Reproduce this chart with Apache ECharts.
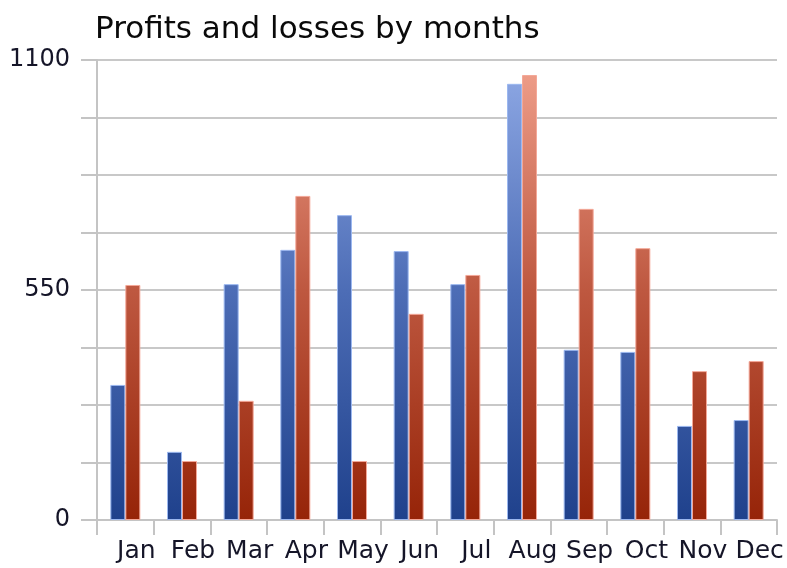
<!DOCTYPE html>
<html>
<head>
<meta charset="utf-8">
<script src="https://cdn.jsdelivr.net/npm/echarts@6/dist/echarts.min.js"></script>
<style>html,body{margin:0;padding:0;background:#fff;}#c{width:787px;height:568px;}</style>
</head>
<body>
<div id="c"></div>
<script>
var months = ['Jan','Feb','Mar','Apr','May','Jun','Jul','Aug','Sep','Oct','Nov','Dec'];
var profits = [323, 163, 564, 646, 729, 643, 564, 1043, 407, 402, 225, 239];
var losses = [562, 141, 285, 775, 141, 493, 586, 1064, 744, 650, 356, 380];
var yLabels = [0, 550, 1100];

var chart = echarts.init(document.getElementById('c'));
var blueGrad = new echarts.graphic.LinearGradient(0, 60, 0, 520, [
  {offset: 0, color: '#90aae6'},
  {offset: 0.5, color: '#4d6db6'},
  {offset: 1, color: '#1f418c'}
], true);
var redGrad = new echarts.graphic.LinearGradient(0, 60, 0, 520, [
  {offset: 0, color: '#f0a08c'},
  {offset: 0.5, color: '#be5840'},
  {offset: 1, color: '#962408'}
], true);
var font = 'DejaVu Sans';
chart.setOption({
  animation: false,
  title: {
    text: 'Profits and losses by months',
    left: 95, top: 14, padding: 0,
    textStyle: {fontFamily: font, fontSize: 31, fontWeight: 'normal', color: '#0a0a0a'}
  },
  grid: {left: 97, right: 10, top: 60, bottom: 48, containLabel: false},
  xAxis: {
    type: 'category',
    data: months,
    boundaryGap: true,
    axisLine: {show: true, lineStyle: {color: '#c4c4c4', width: 2}},
    axisTick: {show: true, length: 15, alignWithLabel: false, lineStyle: {color: '#c4c4c4', width: 2}},
    axisLabel: {fontFamily: font, fontSize: 25, color: '#151528', margin: 19, padding: [0, 0, 0, 22], interval: 0}
  },
  yAxis: {
    type: 'value',
    min: 0, max: 1100, interval: 137.5,
    axisLine: {show: true, lineStyle: {color: '#c4c4c4', width: 2}},
    axisTick: {show: true, length: 16, lineStyle: {color: '#c4c4c4', width: 2}},
    splitLine: {show: true, lineStyle: {color: '#c8c8c8', width: 2}},
    axisLabel: {
      fontFamily: font, fontSize: 24, color: '#151528', margin: 27,
      formatter: function (v) { return yLabels.indexOf(Math.round(v)) >= 0 ? String(Math.round(v)) : ''; }
    }
  },
  series: [
    {
      name: 'Profits', type: 'bar', data: profits, barWidth: 15, barGap: '0%',
      itemStyle: {color: blueGrad, borderColor: '#9cb8f0', borderWidth: 1}
    },
    {
      name: 'Losses', type: 'bar', data: losses, barWidth: 15,
      itemStyle: {color: redGrad, borderColor: '#f4a898', borderWidth: 1}
    }
  ]
});
</script>
</body>
</html>
